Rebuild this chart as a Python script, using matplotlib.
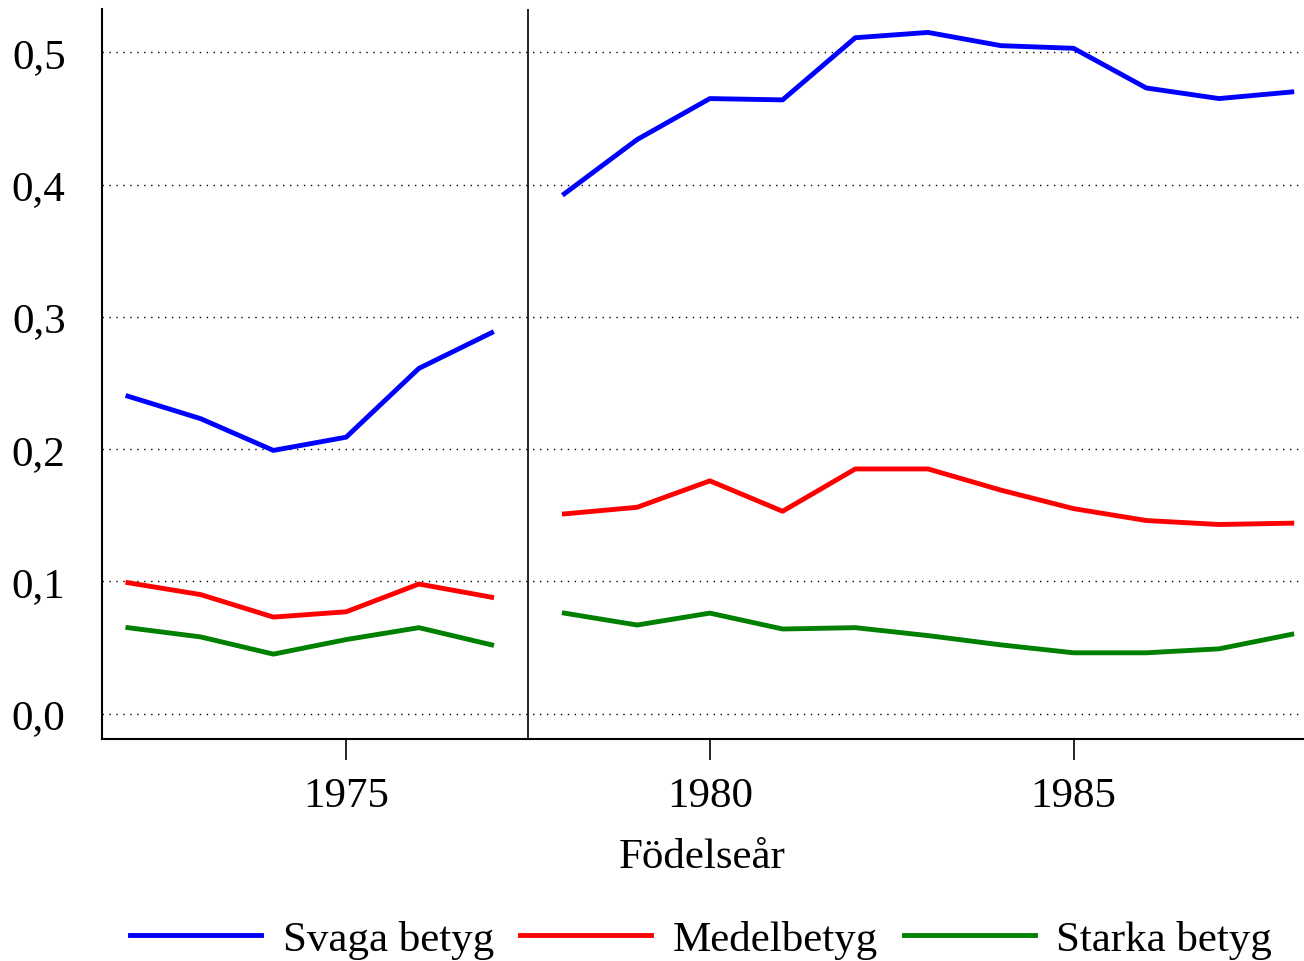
import numpy as np
import matplotlib.pyplot as plt

"""
Data
"""
years = np.arange(1972, 1989)
svaga = [0.240, 0.223, 0.199, 0.209, 0.261, 0.288,
         0.393, 0.434, 0.465, 0.464, 0.511, 0.515, 0.505, 0.503, 0.473, 0.465, 0.470]
medel = [0.099, 0.090, 0.073, 0.077, 0.098, 0.088,
         0.151, 0.156, 0.176, 0.153, 0.185, 0.185, 0.169, 0.155, 0.146, 0.143, 0.144]
starka = [0.065, 0.058, 0.045, 0.056, 0.065, 0.052,
          0.076, 0.067, 0.076, 0.064, 0.065, 0.059, 0.052, 0.046, 0.046, 0.049, 0.060]
series = [('Svaga betyg', svaga, '#0000ff'),
          ('Medelbetyg', medel, '#ff0000'),
          ('Starka betyg', starka, '#008000')]
yticks = [0.0, 0.1, 0.2, 0.3, 0.4, 0.5]
ytick_labels = ['0,0', '0,1', '0,2', '0,3', '0,4', '0,5']
xticks = [1975, 1980, 1985]
break_year = 1977.5

plt.rcParams['font.family'] = ['Liberation Serif', 'DejaVu Serif']

fig = plt.figure(figsize=(13.04, 9.62), dpi=100)
ax = fig.add_axes([0.078, 0.231, 0.921, 0.759])

split = 6  # first 6 years belong to the earlier segment
for name, vals, col in series:
    vals = np.array(vals)
    ax.plot(years[:split], vals[:split], color=col, lw=3.5, label=name)
    ax.plot(years[split:], vals[split:], color=col, lw=3.5)

ax.axvline(break_year, color='black', lw=1.2)

ax.set_xlim(1971.64, 1988.15)
ax.set_ylim(-0.019, 0.533)
ax.set_yticks(yticks)
ax.set_yticklabels(ytick_labels)
ax.set_xticks(xticks)
ax.yaxis.grid(True, linestyle=(0, (1, 4)), color='black', lw=1)
ax.set_axisbelow(True)

for s in ['top', 'right']:
    ax.spines[s].set_visible(False)
ax.spines['left'].set_linewidth(1.5)
ax.spines['bottom'].set_linewidth(1.5)

ax.tick_params(axis='y', length=0, pad=26, labelsize=31)
ax.tick_params(axis='x', length=15, width=1.2, pad=12, labelsize=31)
ax.set_xlabel('Födelseår', fontsize=31, labelpad=16)

fig.legend(*ax.get_legend_handles_labels(), loc='center', bbox_to_anchor=(0.5376, 0.022),
           ncol=3, frameon=False, fontsize=31, handlelength=3.05,
           columnspacing=0.6, handletextpad=0.5, borderpad=0, borderaxespad=0)

fig.savefig('out.png', dpi=100)
